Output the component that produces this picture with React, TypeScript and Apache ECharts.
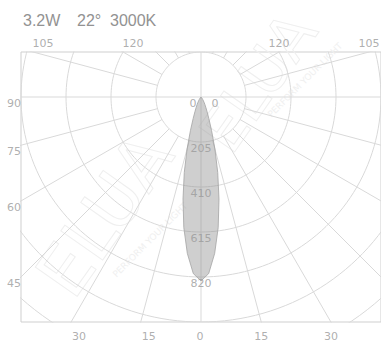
import React, { useEffect, useRef } from "react";
import * as echarts from "echarts";

// ---- data ----
const titleParts = ["3.2W", "22°", "3000K"];
const ringLabels = [205, 410, 615, 820];
const gridRings = [205, 410, 615, 820, 1025, 1230];
const spokeAngles = [15, 30, 45, 60, 75, 105, 120, 135, 150, 165];
const sideLabels = [90, 75, 60, 45];
const topLabels = [-105, -120, 120, 105];
const bottomLabels = [-30, -15, 0, 15, 30];
const beamAngles = [0, 2.5, 5, 7.5, 10, 12.5, 15, 17.5, 20, 22.5, 25, 27.5, 30, 35, 40, 45, 50];
const beamIntensity = [838, 805, 715, 600, 472, 352, 245, 160, 105, 72, 52, 38, 28, 14, 6, 2, 0];

const X_MAX = 820;
const Y_MIN = -1025;
const Y_MAX = 205;

const GRID_COLOR = "#d9d9d9";
const LABEL_COLOR = "#9a9a9a";
const LABEL_FONT = "DejaVu Sans";

const rad = (d: number) => (d * Math.PI) / 180;
// angle measured from straight down (0) toward the right (positive)
const polarPoint = (deg: number, r: number): [number, number] => [
  r * Math.sin(rad(deg)),
  -r * Math.cos(rad(deg)),
];

export default function App() {
  const ref = useRef<HTMLDivElement>(null);

  useEffect(() => {
    if (!ref.current) return;
    const chart = echarts.init(ref.current, undefined, { renderer: "svg" });

    const lineBase = {
      type: "line" as const,
      symbol: "none",
      silent: true,
      clip: true,
      z: 1,
      lineStyle: { color: GRID_COLOR, width: 1 },
      animation: false,
    };

    const series: any[] = [];

    // rings
    gridRings.forEach((r) => {
      const pts: [number, number][] = [];
      for (let a = 0; a <= 360; a += 2) pts.push(polarPoint(a, r));
      series.push({ ...lineBase, data: pts });
    });

    // spokes (outside the first ring), both sides
    spokeAngles.forEach((a) => {
      [a, -a].forEach((s) => {
        series.push({ ...lineBase, data: [polarPoint(s, gridRings[0]), polarPoint(s, 2000)] });
      });
    });

    // main axes through the centre
    series.push({ ...lineBase, data: [[-X_MAX, 0], [X_MAX, 0]] });
    series.push({ ...lineBase, data: [[0, Y_MAX], [0, Y_MIN]] });

    // beam lobe
    const lobe: [number, number][] = [];
    for (let i = beamAngles.length - 1; i >= 0; i--) lobe.push(polarPoint(-beamAngles[i], beamIntensity[i]));
    for (let i = 1; i < beamAngles.length; i++) lobe.push(polarPoint(beamAngles[i], beamIntensity[i]));

    series.push({
      type: "custom",
      silent: true,
      z: 3,
      data: [[0, 0]],
      renderItem: (params: any, api: any) => {
        const points = lobe.map((p) => api.coord(p));
        return {
          type: "polygon",
          shape: { points },
          style: { fill: "rgba(140,140,140,0.42)", stroke: "#a3a3a3", lineWidth: 0.8 },
        };
      },
    });

    const labelStyle = {
      show: true,
      color: LABEL_COLOR,
      fontFamily: LABEL_FONT,
      fontSize: 11,
    };
    const labelPoint = (
      value: [number, number],
      text: string,
      align: string,
      verticalAlign: string,
      offset: [number, number]
    ) => ({
      value,
      label: { ...labelStyle, formatter: text, position: "inside", align, verticalAlign, offset },
    });

    const labelData: any[] = [];
    // ring labels
    ringLabels.forEach((v) => labelData.push(labelPoint([0, -v], String(v), "center", "top", [0, 1])));
    // zero labels at centre
    labelData.push(labelPoint([0, 0], "0", "center", "top", [-8, 1]));
    labelData.push(labelPoint([0, 0], "0", "center", "top", [14, 1]));
    // left side angle labels
    sideLabels.forEach((a) => {
      const y = (-X_MAX * Math.cos(rad(a))) / Math.sin(rad(a));
      labelData.push(labelPoint([-X_MAX, y], String(a), "right", "top", [0, 1]));
    });
    // bottom angle labels
    bottomLabels.forEach((a) => {
      const x = -Y_MIN * Math.tan(rad(a));
      const dx = a < 0 ? 8 : a === 0 ? -1 : 0;
      labelData.push(labelPoint([x, Y_MIN], String(Math.abs(a)), "center", "top", [dx, 9]));
    });
    // top angle labels
    topLabels.forEach((a) => {
      const s = Math.sign(a);
      const x = (s * Y_MAX) / Math.tan(rad(Math.abs(a) - 90));
      const dx = s < 0 ? 10 : 0;
      labelData.push(labelPoint([x, Y_MAX], String(Math.abs(a)), "center", "bottom", [dx, -3]));
    });

    series.push({
      type: "scatter",
      symbolSize: 0,
      silent: true,
      clip: false,
      z: 5,
      data: labelData,
    });

    const titleX = [23, 77, 110];
    const watermarkStyle = {
      fill: "none",
      stroke: "#efefef",
      lineWidth: 1,
      fontFamily: "DejaVu Sans",
    };

    chart.setOption({
      animation: false,
      backgroundColor: "#ffffff",
      grid: {
        left: 21,
        top: 52,
        width: 360,
        height: 270,
        show: true,
        borderColor: "#cfcfcf",
        borderWidth: 1,
        backgroundColor: "transparent",
      },
      xAxis: { type: "value", min: -X_MAX, max: X_MAX, show: false },
      yAxis: { type: "value", min: Y_MIN, max: Y_MAX, show: false },
      graphic: [
        ...titleParts.map((t, i) => ({
          type: "text",
          x: titleX[i],
          y: 20,
          z: 10,
          style: {
            text: t,
            fill: "#929292",
            font: "16px 'Liberation Sans'",
            textVerticalAlign: "middle",
            verticalAlign: "middle",
          },
        })),
        {
          type: "text",
          x: 105,
          y: 215,
          rotation: rad(55),
          z: 0,
          style: {
            ...watermarkStyle,
            text: "ELUA",
            fontSize: 70,
            align: "center",
            verticalAlign: "middle",
          },
        },
        {
          type: "text",
          x: 258,
          y: 82,
          rotation: rad(55),
          z: 0,
          style: {
            ...watermarkStyle,
            text: "ELUA",
            fontSize: 60,
            align: "center",
            verticalAlign: "middle",
          },
        },
        {
          type: "text",
          x: 150,
          y: 240,
          rotation: rad(45),
          z: 0,
          style: {
            fill: "#f0f0f0",
            text: "PERFORM YOUR LIGHT",
            fontSize: 9,
            fontFamily: "DejaVu Sans",
            align: "center",
            verticalAlign: "middle",
          },
        },
        {
          type: "text",
          x: 305,
          y: 80,
          rotation: rad(45),
          z: 0,
          style: {
            fill: "#f0f0f0",
            text: "PERFORM YOUR LIGHT",
            fontSize: 9,
            fontFamily: "DejaVu Sans",
            align: "center",
            verticalAlign: "middle",
          },
        },
      ],
      series,
    });

    return () => chart.dispose();
  }, []);

  return (
    <div
      ref={ref}
      style={{ position: "fixed", left: 0, top: 0, width: 381, height: 342, background: "#fff" }}
    />
  );
}
